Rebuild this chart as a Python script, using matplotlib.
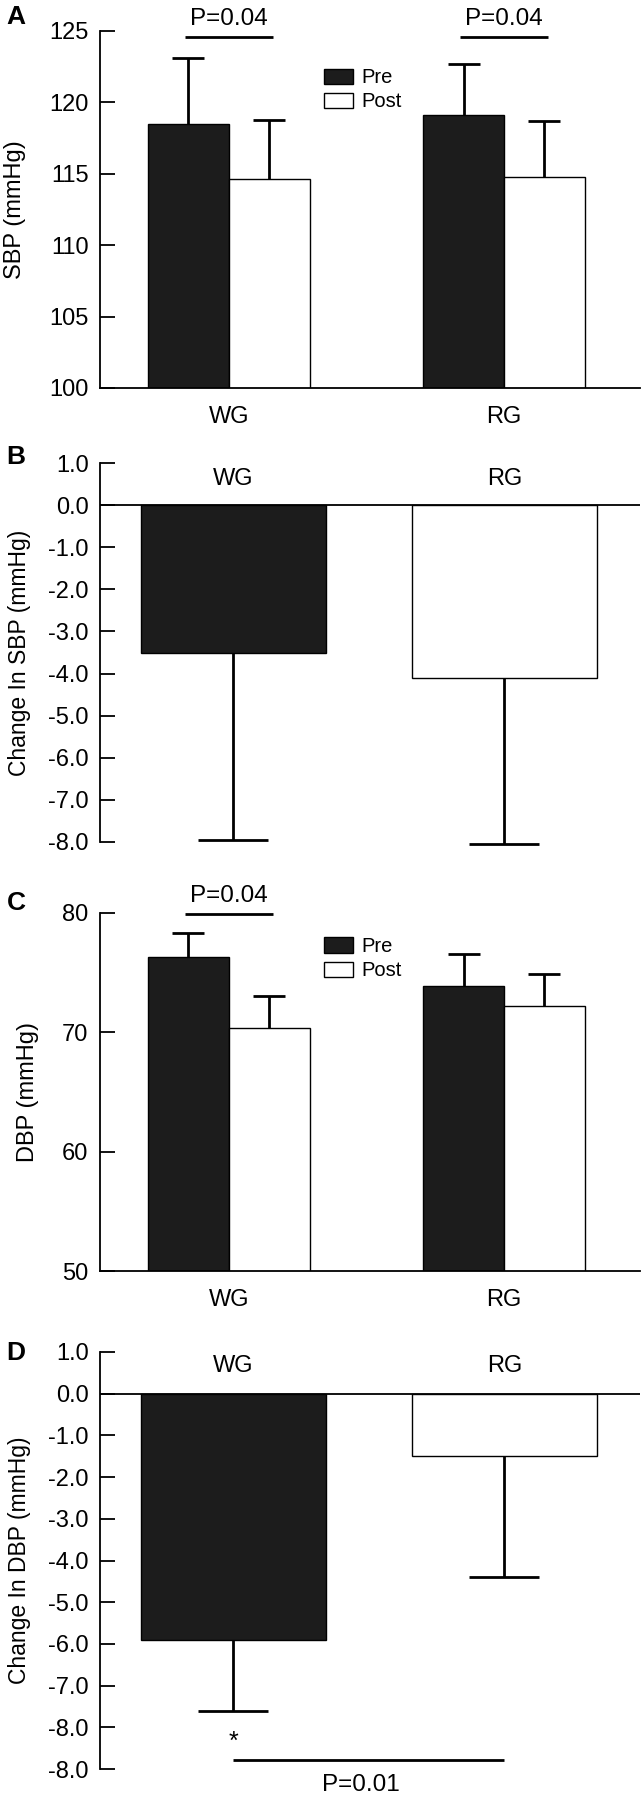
import numpy as np
import matplotlib.pyplot as plt
from matplotlib.patches import Patch

groups = ['WG', 'RG']

# panel A: SBP pre/post (mean, upper error)
sbp_pre = [118.5, 119.1]
sbp_pre_err = [4.6, 3.6]
sbp_post = [114.65, 114.8]
sbp_post_err = [4.1, 3.9]

# panel B: change in SBP
sbp_change = [-3.5, -4.1]
sbp_change_err = [4.45, 3.95]

# panel C: DBP pre/post
dbp_pre = [76.3, 73.9]
dbp_pre_err = [2.05, 2.65]
dbp_post = [70.35, 72.2]
dbp_post_err = [2.7, 2.65]

# panel D: change in DBP
dbp_change = [-5.9, -1.5]
dbp_change_err = [1.7, 2.9]

change_ticks = [1, 0, -1, -2, -3, -4, -5, -6, -7, -8]
change_ticklabels = ['1.0', '0.0', '-1.0', '-2.0', '-3.0', '-4.0', '-5.0', '-6.0', '-7.0', '-8.0']
dchange_ticks = [1, 0, -1, -2, -3, -4, -5, -6, -7, -8, -9]
dchange_ticklabels = change_ticklabels + ['-8.0']

DARK = '#1c1c1c'
FS = 17

plt.rcParams['font.family'] = ['Liberation Sans', 'DejaVu Sans']

fig = plt.figure(figsize=(6.41, 17.96), dpi=100)
H = 1796.0
W = 641.0


def make_axes(top_px, bottom_px):
    left = 99.7 / W
    width = (640 - 99.7) / W
    return fig.add_axes([left, 1 - bottom_px / H, width, (bottom_px - top_px) / H])


def style_axes(ax):
    for s in ['top', 'right']:
        ax.spines[s].set_visible(False)
    ax.spines['left'].set_linewidth(1.3)
    ax.spines['bottom'].set_linewidth(1.3)
    ax.tick_params(axis='y', direction='in', length=10.5, width=1.3, pad=8, labelsize=FS)


def legend(ax, handles, ytop):
    ax.legend(handles, ['Pre', 'Post'], loc='upper left', bbox_to_anchor=(0.4157, ytop),
              frameon=False, fontsize=14.5, handlelength=1.44, handleheight=0.78,
              handletextpad=0.4, labelspacing=0.26, borderpad=0, borderaxespad=0)


def prepost(ax, pre, pre_err, post, post_err, ylim, yticks, ylabel, labelx):
    x = np.arange(len(groups))
    w = 0.294
    ax.bar(x - w / 2, pre, w, color=DARK, edgecolor='k', linewidth=1, zorder=2)
    ax.bar(x + w / 2, post, w, color='white', edgecolor='k', linewidth=1, zorder=2)
    for off, vals, errs in [(-w / 2, pre, pre_err), (w / 2, post, post_err)]:
        eb = ax.errorbar(x + off, vals, yerr=[np.zeros(len(errs)), errs], fmt='none',
                         ecolor='k', elinewidth=2, capsize=11.5, capthick=2, zorder=3)
        eb[1][0].set_visible(False)
    ax.set_xlim(-0.4686, 1.494)
    ax.set_ylim(*ylim)
    ax.set_yticks(yticks)
    ax.set_xticks(x, groups)
    ax.tick_params(axis='x', length=0, pad=13, labelsize=FS)
    style_axes(ax)
    ax.set_ylabel(ylabel, fontsize=17)
    ax.yaxis.set_label_coords(labelx, 0.5)
    return [Patch(facecolor=DARK, edgecolor='k', linewidth=1),
            Patch(facecolor='white', edgecolor='k', linewidth=1)]


def change(ax, vals, errs, yticks, yticklabels, ylabel, labely):
    x = np.arange(len(groups))
    w = 0.679
    ax.bar(x, vals, w, color=[DARK, 'white'], edgecolor='k', linewidth=1, zorder=2)
    eb = ax.errorbar(x, vals, yerr=[errs, np.zeros(len(errs))], fmt='none',
                     ecolor='k', elinewidth=2, capsize=25, capthick=2, zorder=3)
    eb[1][1].set_visible(False)
    for art in list(eb[1]) + list(eb[2]):
        art.set_clip_on(False)
    ax.axhline(0, color='k', linewidth=1.3, zorder=4)
    ax.set_xlim(-0.4937, 1.5)
    ax.set_ylim(yticks[-1], yticks[0])
    ax.set_yticks(yticks, yticklabels)
    ax.set_xticks([])
    style_axes(ax)
    ax.spines['bottom'].set_visible(False)
    for xi, g in zip(x, groups):
        ax.text(xi, labely, g, ha='center', va='center', fontsize=FS)
    ax.set_ylabel(ylabel, fontsize=16.5)
    ax.yaxis.set_label_coords(-0.127, 0.5)


# A
axA = make_axes(31, 388)
h = prepost(axA, sbp_pre, sbp_pre_err, sbp_post, sbp_post_err, (100, 125),
            [100, 105, 110, 115, 120, 125], 'SBP (mmHg)', -0.137)
legend(axA, h, 0.896)
for xc in [0, 1]:
    axA.plot([xc - 0.16, xc + 0.16], [124.55, 124.55], color='k', lw=2.0,
             clip_on=False, solid_capstyle='butt')
    axA.text(xc, 125.42, 'P=0.04', ha='center', va='baseline', fontsize=17.5)

# B
axB = make_axes(463, 842)
change(axB, sbp_change, sbp_change_err, change_ticks, change_ticklabels,
       'Change In SBP (mmHg)', 0.62)

# C
axC = make_axes(913, 1271)
h = prepost(axC, dbp_pre, dbp_pre_err, dbp_post, dbp_post_err, (50, 80),
            [50, 60, 70, 80], 'DBP (mmHg)', -0.112)
legend(axC, h, 0.933)
axC.plot([-0.16, 0.16], [79.95, 79.95], color='k', lw=2.0, clip_on=False,
         solid_capstyle='butt')
axC.text(0, 80.92, 'P=0.04', ha='center', va='baseline', fontsize=17.5)

# D
axD = make_axes(1352, 1769)
change(axD, dbp_change, dbp_change_err, dchange_ticks, dchange_ticklabels,
       'Change In DBP (mmHg)', 0.67)
axD.text(0, -8.51, '*', ha='center', va='baseline', fontsize=18)
axD.plot([0, 1], [-8.79, -8.79], color='k', lw=2.0, clip_on=False,
         solid_capstyle='butt')
axD.text(0.47, -9.53, 'P=0.01', ha='center', va='baseline', fontsize=17.5,
         clip_on=False)

for letter, ypx in [('A', 17), ('B', 457.5), ('C', 902.7), ('D', 1353)]:
    fig.text(16 / W, 1 - ypx / H, letter, fontsize=19, fontweight='bold',
             ha='center', va='center')

fig.savefig('out.png', dpi=100)
